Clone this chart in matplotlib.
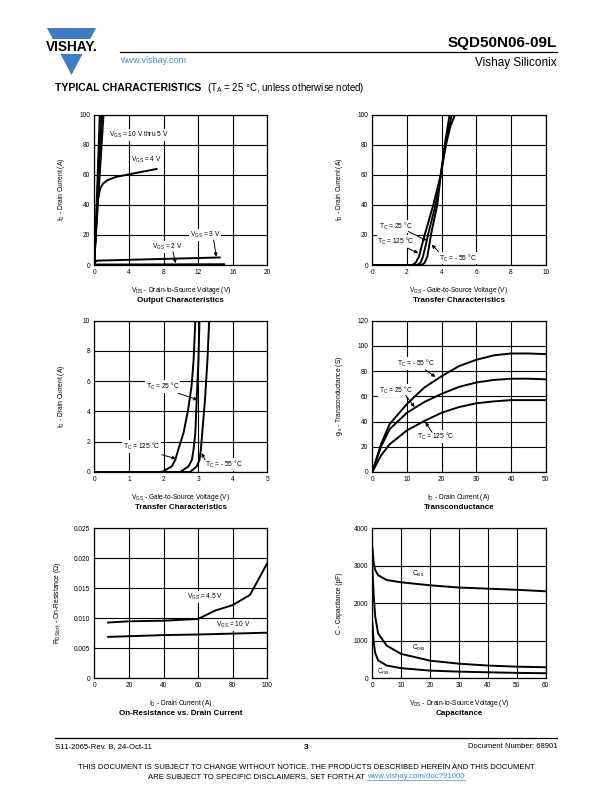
import numpy as np
import matplotlib
matplotlib.use('Agg')
import matplotlib.pyplot as plt
from matplotlib.patches import Polygon

plt.rcParams['font.family'] = ['Liberation Sans', 'DejaVu Sans']
plt.rcParams['mathtext.default'] = 'regular'

# ---- data ----
# output characteristics
vgs_hi_vds = [[0, 0.6], [0, 0.72], [0, 0.84], [0, 0.96], [0, 1.1]]
vgs_hi_id = [0, 100]
vgs4_vds = [0, 0.3, 0.45, 0.7, 1.0, 1.5, 2.5, 4.5, 7.2]
vgs4_id = [0, 38, 45, 51, 54, 56.3, 58.5, 60.8, 63.8]
vgs3_vds = [0, 0.1, 0.3, 14.5]
vgs3_id = [0, 2.0, 2.9, 5.0]
vgs2_vds = [0, 0.2, 15]
vgs2_id = [0, 0.3, 0.5]

# transfer characteristics 0-100 A
tr_v_125 = [0, 2.3, 2.5, 2.69, 2.88, 3.02, 3.52, 3.95, 4.25, 4.5, 4.77]
tr_i_125 = [0, 0, 1.5, 5.5, 14, 20, 40, 60, 80, 92, 100]
tr_v_25 = [0, 2.6, 2.78, 2.92, 3.1, 3.21, 3.65, 3.95, 4.22, 4.58]
tr_v_m55 = [0, 2.85, 3.02, 3.17, 3.3, 3.38, 3.75, 3.95, 4.18, 4.46]
tr_i = [0, 0, 1.5, 5.5, 14, 20, 40, 60, 80, 100]

# transfer characteristics 0-10 A
lo_v_125 = [0, 1.95, 2.24, 2.34, 2.43, 2.58, 2.71, 2.81, 2.87, 2.92]
lo_i_125 = [0, 0, 0.37, 0.8, 1.5, 2.6, 4.1, 5.65, 7.4, 10]
lo_v_25 = [0, 2.48, 2.72, 2.82, 2.87, 2.92, 2.96, 3.01, 3.04]
lo_v_m55 = [0, 2.77, 2.96, 3.04, 3.08, 3.12, 3.2, 3.27, 3.32]
lo_i = [0, 0, 0.37, 0.8, 1.5, 2.6, 4.8, 7.4, 10]

# transconductance
gfs_id = [0, 2.5, 5, 10, 15, 20, 25, 30, 35, 40, 45, 50]
gfs_m55 = [0, 22, 38, 54, 67, 76, 84, 89, 92.5, 94, 94, 93.5]
gfs_25 = [0, 20, 34, 47, 55.5, 62, 67.5, 71, 73, 74, 74, 73.5]
gfs_125 = [0, 13, 22, 33, 40.5, 47, 51.5, 54.5, 56, 57, 57, 57]

# on-resistance
rds_id_45 = [8, 20, 40, 60, 70, 80, 90, 100]
rds_45 = [0.0093, 0.0095, 0.0096, 0.0099, 0.0113, 0.0122, 0.0139, 0.0192]
rds_id_10 = [8, 40, 60, 100]
rds_10 = [0.0069, 0.0072, 0.0073, 0.0076]

# capacitance
cap_vds = [0, 0.5, 1, 2, 5, 10, 20, 30, 40, 50, 60]
ciss = [3500, 3067, 2889, 2750, 2620, 2560, 2480, 2420, 2390, 2360, 2320]
coss = [2950, 2200, 1650, 1200, 870, 650, 470, 390, 340, 310, 295]
crss = [1500, 950, 680, 480, 340, 270, 205, 178, 160, 145, 135]

W, H = 612, 792
fig = plt.figure(figsize=(W / 100, H / 100), dpi=100)

# page background axes in pixel coords
bg = fig.add_axes([0, 0, 1, 1], zorder=-5)
bg.set_xlim(0, W)
bg.set_ylim(H, 0)
bg.axis('off')

blue = '#3b7cc4'
# logo: inverted triangle split by the name
top_y, tip_y, xl, xr = 28, 75, 47, 96
xc = (xl + xr) / 2
hw = (xr - xl) / 2
def half(y):
    return hw * (tip_y - y) / (tip_y - top_y)
bg.add_patch(Polygon([[xl, top_y], [xr, top_y], [xc + half(39), 39], [xc - half(39), 39]],
                     closed=True, color=blue, lw=0))
bg.add_patch(Polygon([[xc - half(54), 54], [xc + half(54), 54], [xc, tip_y]],
                     closed=True, color=blue, lw=0))
bg.text(xc, 47, 'VISHAY.', ha='center', va='center', fontsize=9.8, fontweight='bold')

bg.plot([120, 557], [52, 52], color='k', lw=0.9)
bg.text(557, 47, 'SQD50N06-09L', ha='right', va='baseline', fontsize=11, fontweight='bold')
bg.text(557, 66, 'Vishay Siliconix', ha='right', va='baseline', fontsize=8.5)
bg.text(120, 63, 'www.vishay.com', ha='left', va='baseline', fontsize=6.5, color='#3a8fd0')
bg.text(55, 91, 'TYPICAL CHARACTERISTICS', ha='left', va='baseline', fontsize=7.5,
        fontweight='bold')
bg.text(207, 91, '(T$_A$ = 25 °C, unless otherwise noted)', ha='left', va='baseline', fontsize=6.9)

# footer
bg.plot([55, 557], [738, 738], color='k', lw=0.9)
bg.text(55, 748, 'S11-2065-Rev. B, 24-Oct-11', ha='left', va='baseline', fontsize=5.6)
bg.text(306, 749, '3', ha='center', va='baseline', fontsize=6, fontweight='bold')
bg.text(557, 748, 'Document Number: 68901', ha='right', va='baseline', fontsize=5.5)
bg.text(306, 769, 'THIS DOCUMENT IS SUBJECT TO CHANGE WITHOUT NOTICE. THE PRODUCTS DESCRIBED HEREIN AND THIS DOCUMENT',
        ha='center', va='baseline', fontsize=5.6)
bg.text(367, 778, 'ARE SUBJECT TO SPECIFIC DISCLAIMERS, SET FORTH AT ', ha='right', va='baseline',
        fontsize=5.6)
bg.text(367, 778, 'www.vishay.com/doc?91000', ha='left', va='baseline', fontsize=5.6, color='#3a8fd0')
bg.plot([367, 465], [779.5, 779.5], color='#3a8fd0', lw=0.5)

LW = 1.4
FS = 4.8


def make_ax(left_px, top_px, w_px, h_px, xlim, ylim, xt, yt, xlabel, ylabel, title, ylab_off=-0.19):
    ax = fig.add_axes([left_px / W, 1 - (top_px + h_px) / H, w_px / W, h_px / H])
    ax.set_xlim(*xlim)
    ax.set_ylim(*ylim)
    ax.set_xticks(xt)
    ax.set_yticks(yt)
    ax.tick_params(length=0, labelsize=4.7, pad=3)
    ax.grid(True, color='k', lw=0.8)
    ax.set_axisbelow(True)
    for s in ax.spines.values():
        s.set_linewidth(0.9)
    ax.text(0.5, -0.168, xlabel, transform=ax.transAxes, ha='center', va='center', fontsize=FS)
    ax.text(0.5, -0.235, title, transform=ax.transAxes, ha='center', va='center', fontsize=5.8,
            fontweight='bold')
    ax.text(ylab_off, 0.5, ylabel, transform=ax.transAxes, ha='center', va='center', fontsize=FS,
            rotation=90)
    return ax


def label(ax, x, y, s):
    ax.text(x, y, s, ha='center', va='center', fontsize=FS,
            bbox=dict(facecolor='white', edgecolor='none', pad=0.6))


def arrow(ax, x0, y0, x1, y1):
    ax.annotate('', xy=(x1, y1), xytext=(x0, y0),
                arrowprops=dict(arrowstyle='-|>', lw=0.7, color='k', mutation_scale=5,
                                shrinkA=0, shrinkB=0))


# 1 output characteristics
ax = make_ax(94.3, 114.5, 173, 150.5, (0, 20), (0, 100), [0, 4, 8, 12, 16, 20],
             [0, 20, 40, 60, 80, 100], 'V$_{DS}$ - Drain-to-Source Voltage (V)',
             'I$_D$ - Drain Current (A)', 'Output Characteristics')
for v in vgs_hi_vds:
    ax.plot(v, vgs_hi_id, color='k', lw=1.0)
ax.plot(vgs4_vds, vgs4_id, color='k', lw=LW)
ax.plot(vgs3_vds, vgs3_id, color='k', lw=LW)
ax.plot(vgs2_vds, vgs2_id, color='k', lw=LW)
label(ax, 5.2, 86.3, 'V$_{GS}$ = 10 V thru 5 V')
label(ax, 6.0, 69.7, 'V$_{GS}$ = 4 V')
label(ax, 12.8, 19.9, 'V$_{GS}$ = 3 V')
label(ax, 8.4, 12.2, 'V$_{GS}$ = 2 V')
arrow(ax, 13.8, 16.6, 14.1, 5.5)
arrow(ax, 9.1, 8.8, 9.4, 1.2)

# 2 transfer characteristics
ax = make_ax(372.3, 114.5, 173.4, 150.5, (0, 10), (0, 100), [0, 2, 4, 6, 8, 10],
             [0, 20, 40, 60, 80, 100], 'V$_{GS}$ - Gate-to-Source Voltage (V)',
             'I$_D$ - Drain Current (A)', 'Transfer Characteristics')
ax.plot(tr_v_125, tr_i_125, color='k', lw=LW)
ax.plot(tr_v_25, tr_i, color='k', lw=LW)
ax.plot(tr_v_m55, tr_i, color='k', lw=LW)
label(ax, 1.37, 25.6, 'T$_C$ = 25 °C')
label(ax, 1.37, 15.7, 'T$_C$ = 125 °C')
label(ax, 4.96, 4.6, 'T$_C$ = - 55 °C')
arrow(ax, 2.08, 22.3, 3.13, 16.3)
arrow(ax, 2.02, 11.3, 2.65, 7.9)
arrow(ax, 3.81, 9.0, 3.42, 13.5)

# 3 transfer characteristics, low current
ax = make_ax(94.3, 320.7, 173, 151.3, (0, 5), (0, 10), [0, 1, 2, 3, 4, 5],
             [0, 2, 4, 6, 8, 10], 'V$_{GS}$ - Gate-to-Source Voltage (V)',
             'I$_D$ - Drain Current (A)', 'Transfer Characteristics')
ax.plot(lo_v_125, lo_i_125, color='k', lw=LW)
ax.plot(lo_v_25, lo_i, color='k', lw=LW)
ax.plot(lo_v_m55, lo_i, color='k', lw=LW)
label(ax, 1.97, 5.65, 'T$_C$ = 25 °C')
label(ax, 1.37, 1.69, 'T$_C$ = 125 °C')
label(ax, 3.73, 0.48, 'T$_C$ = - 55 °C')
arrow(ax, 2.43, 5.2, 2.99, 4.77)
arrow(ax, 1.95, 1.14, 2.36, 0.88)
arrow(ax, 3.2, 0.8, 3.1, 1.25)

# 4 transconductance
ax = make_ax(372.3, 320.7, 173.4, 151.3, (0, 50), (0, 120), [0, 10, 20, 30, 40, 50],
             [0, 20, 40, 60, 80, 100, 120], 'I$_D$ - Drain Current (A)',
             'g$_{fs}$ - Transconductance (S)', 'Transconductance')
ax.plot(gfs_id, gfs_m55, color='k', lw=LW)
ax.plot(gfs_id, gfs_25, color='k', lw=LW)
ax.plot(gfs_id, gfs_125, color='k', lw=LW)
label(ax, 12.5, 86, 'T$_C$ = - 55 °C')
label(ax, 6.7, 64.8, 'T$_C$ = 25 °C')
label(ax, 18.2, 28, 'T$_C$ = 125 °C')
arrow(ax, 15.3, 81, 18.2, 75.4)
arrow(ax, 9.6, 60.8, 12.2, 51.5)
arrow(ax, 17.2, 31.6, 15.3, 39.5)

# 5 on-resistance
ax = make_ax(94.3, 528.3, 173, 150, (0, 100), (0, 0.025), [0, 20, 40, 60, 80, 100],
             [0, 0.005, 0.010, 0.015, 0.020, 0.025], 'I$_D$ - Drain Current (A)',
             'R$_{DS(on)}$ - On-Resistance (Ω)', 'On-Resistance vs. Drain Current', ylab_off=-0.215)
ax.set_yticklabels(['0', '0.005', '0.010', '0.015', '0.020', '0.025'])
ax.plot(rds_id_45, rds_45, color='k', lw=LW)
ax.plot(rds_id_10, rds_10, color='k', lw=LW)
label(ax, 64, 0.0136, 'V$_{GS}$ = 4.5 V')
label(ax, 80.3, 0.0089, 'V$_{GS}$ = 10 V')

# 6 capacitance
ax = make_ax(372.3, 528.3, 173.4, 150, (0, 60), (0, 4000), [0, 10, 20, 30, 40, 50, 60],
             [0, 1000, 2000, 3000, 4000], 'V$_{DS}$ - Drain-to-Source Voltage (V)',
             'C - Capacitance (pF)', 'Capacitance')
ax.plot(cap_vds, ciss, color='k', lw=LW)
ax.plot(cap_vds, coss, color='k', lw=LW)
ax.plot(cap_vds, crss, color='k', lw=LW)
ax.text(15.9, 2773, 'C$_{iss}$', ha='center', va='center', fontsize=FS)
ax.text(16.2, 800, 'C$_{oss}$', ha='center', va='center', fontsize=FS)
ax.text(3.8, 160, 'C$_{rss}$', ha='center', va='center', fontsize=FS)

fig.savefig('out.png', dpi=100)
